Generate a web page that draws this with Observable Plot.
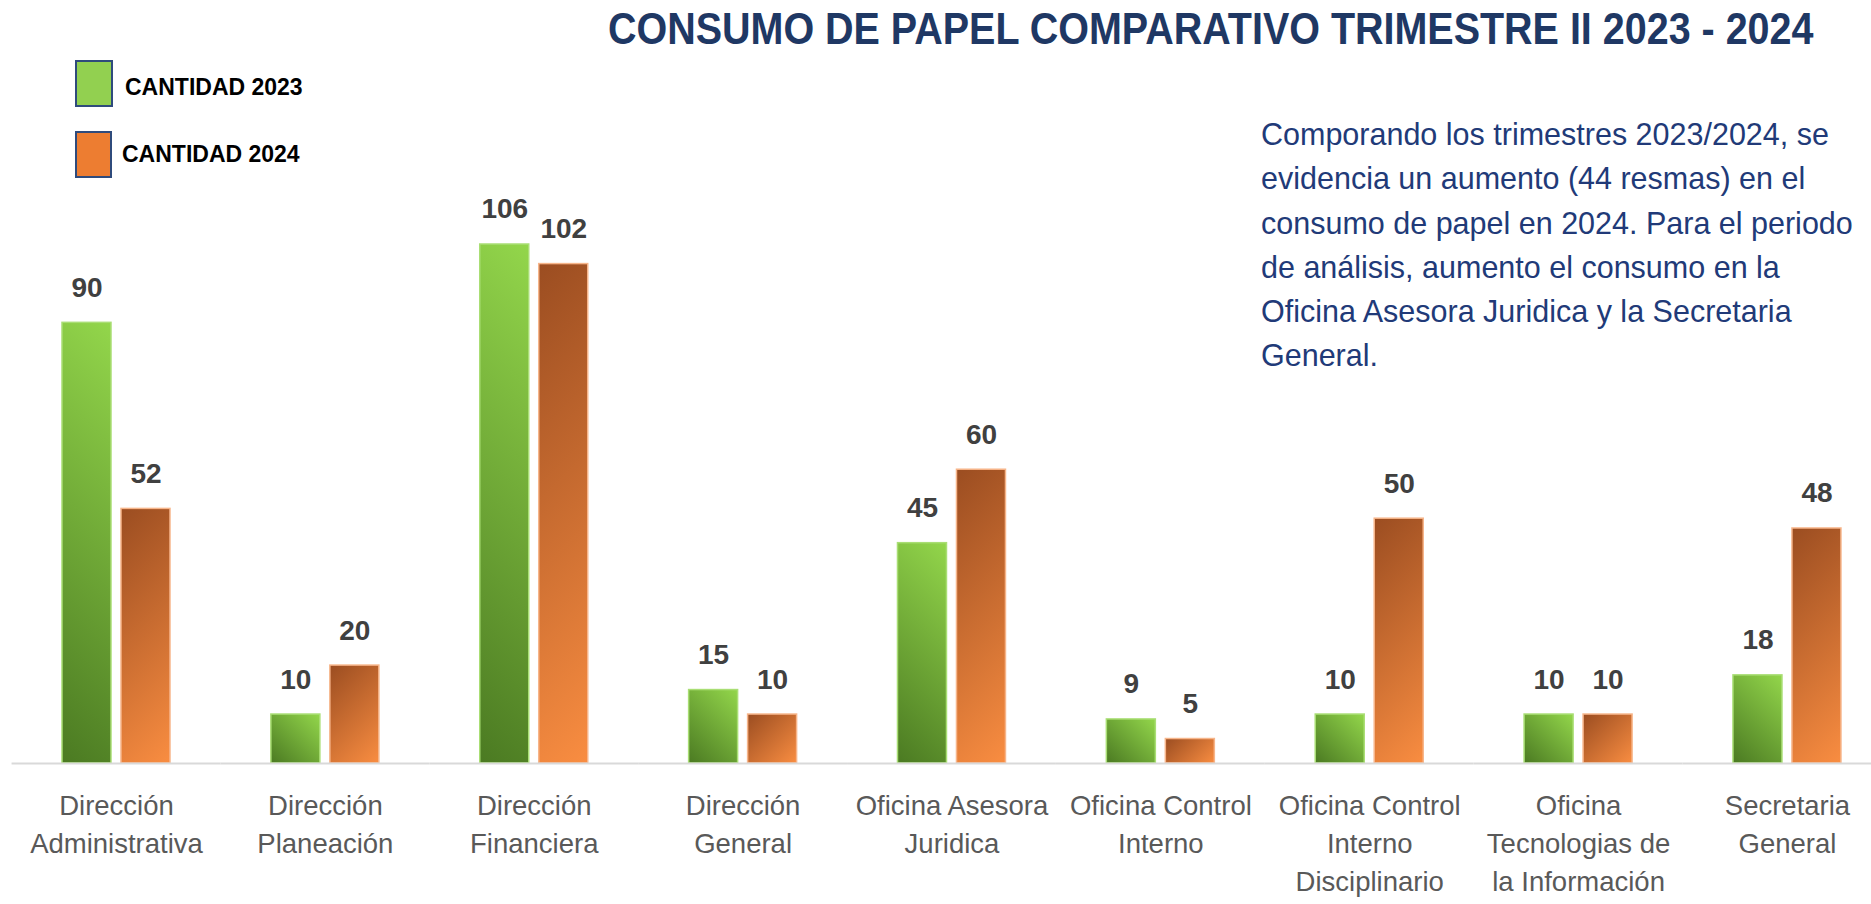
<!DOCTYPE html>
<html>
<head>
<meta charset="utf-8">
<script src="https://cdn.jsdelivr.net/npm/d3@7"></script>
<script src="https://cdn.jsdelivr.net/npm/@observablehq/plot@0.6"></script>
<style>
  html, body { margin: 0; padding: 0; background: #fff; }
  #wrap { position: relative; width: 1871px; height: 904px; overflow: hidden; background: #fff; font-family: "Liberation Sans", Arial, sans-serif; }
  #chart { position: absolute; left: 0; top: 0; }
  #title { position: absolute; left: 608px; top: 7px; font-size: 44px; line-height: 44px; font-weight: bold; color: #1f3864; white-space: nowrap; transform: scaleX(0.897); transform-origin: left top; }
  .sw { position: absolute; box-sizing: border-box; border: 2px solid #2f4b7c; }
  .lt { position: absolute; font-size: 23px; line-height: 23px; font-weight: bold; color: #000; white-space: nowrap; }
  #note { position: absolute; left: 1261px; top: 112px; font-size: 30.5px; line-height: 44.3px; color: #213a78; white-space: nowrap; }
</style>
</head>
<body>
<div id="wrap">
  <div id="chart"></div>
  <div id="title"></div>
  <div id="legend"></div>
  <div id="note"></div>
</div>
<script>
// ---- data ----
const titleText = "CONSUMO DE PAPEL COMPARATIVO TRIMESTRE II 2023 - 2024";
const categories = [
  "Dirección Administrativa",
  "Dirección Planeación",
  "Dirección Financiera",
  "Dirección General",
  "Oficina Asesora Juridica",
  "Oficina Control Interno",
  "Oficina Control Interno Disciplinario",
  "Oficina Tecnologias de la Información",
  "Secretaria General"
];
const tickLabels = [
  "Dirección\nAdministrativa",
  "Dirección\nPlaneación",
  "Dirección\nFinanciera",
  "Dirección\nGeneral",
  "Oficina Asesora\nJuridica",
  "Oficina Control\nInterno",
  "Oficina Control\nInterno\nDisciplinario",
  "Oficina\nTecnologias de\nla Información",
  "Secretaria\nGeneral"
];
const series = ["2023", "2024"];
const seriesLabels = ["CANTIDAD 2023", "CANTIDAD 2024"];
const values2023 = [90, 10, 106, 15, 45, 9, 10, 10, 18];
const values2024 = [52, 20, 102, 10, 60, 5, 50, 10, 48];
const noteLines = [
  "Comporando los trimestres 2023/2024, se",
  "evidencia un aumento (44 resmas) en el",
  "consumo de papel en 2024. Para el periodo",
  "de análisis, aumento el consumo en la",
  "Oficina Asesora Juridica y la Secretaria",
  "General."
];

// ---- styles ----
const seriesColors = ["#92d050", "#ed7d31"];
const gradStops = {
  "#92d050": ["#4b7a22", "#93d64b"],   // dark bottom-left -> light top-right
  "#ed7d31": ["#9b4d21", "#f98d41"]    // dark top-left -> light bottom-right
};
const edgeColors = {"#92d050": "#a9de74", "#ed7d31": "#f7b58a"};

// ---- table ----
const data = categories.flatMap((c, i) => [
  {category: c, year: series[0], value: values2023[i]},
  {category: c, year: series[1], value: values2024[i]}
]);
const labelOf = new Map(categories.map((c, i) => [c, tickLabels[i]]));

const plot = Plot.plot({
  width: 1871,
  height: 904,
  marginTop: 244,
  marginBottom: 141,
  marginLeft: 0,
  marginRight: 0,
  style: {background: "transparent", fontFamily: "Liberation Sans, Arial, sans-serif", overflow: "visible"},
  fx: {domain: categories, range: [11.56, 1891.4], padding: 0, round: false, label: null},
  x: {domain: series, paddingInner: 0.1695, paddingOuter: 0.855, round: false, axis: null},
  y: {domain: [0, 106], axis: null},
  color: {domain: series, range: seriesColors},
  marks: [
    Plot.barY(data, {fx: "category", x: "year", y: "value", fill: "year"}),
    Plot.ruleY([0], {stroke: "#d9d9d9", strokeWidth: 2}),
    Plot.text(data, {
      fx: "category", x: "year", y: "value", text: d => String(d.value),
      dy: -35, lineAnchor: "middle", fill: "#404040", fontSize: 28, fontWeight: "bold"
    }),
    Plot.axisFx({
      anchor: "bottom", tickSize: 0, tickPadding: 24, label: null,
      tickFormat: c => labelOf.get(c), fontSize: 27.5, lineHeight: 1.39, fill: "#595959"
    })
  ]
});
document.getElementById("chart").appendChild(plot);

// ---- 45° gradients computed from the rendered bars ----
const ns = "http://www.w3.org/2000/svg";
const defs = document.createElementNS(ns, "defs");
plot.insertBefore(defs, plot.firstChild);
let gid = 0;
plot.querySelectorAll('g[aria-label="bar"] rect').forEach(r => {
  const base = r.getAttribute("fill") || (r.parentNode && r.parentNode.getAttribute("fill"));
  const stops = gradStops[base];
  if (!stops) return;
  const x = +r.getAttribute("x"), y = +r.getAttribute("y");
  const w = +r.getAttribute("width"), h = +r.getAttribute("height");
  const s = (w + h) / 2;
  const g = document.createElementNS(ns, "linearGradient");
  const id = "bg" + (gid++);
  g.setAttribute("id", id);
  g.setAttribute("gradientUnits", "userSpaceOnUse");
  if (base === seriesColors[0]) {
    g.setAttribute("x1", x); g.setAttribute("y1", y + h);
    g.setAttribute("x2", x + s); g.setAttribute("y2", y + h - s);
  } else {
    g.setAttribute("x1", x); g.setAttribute("y1", y);
    g.setAttribute("x2", x + s); g.setAttribute("y2", y + s);
  }
  stops.forEach((c, i) => {
    const st = document.createElementNS(ns, "stop");
    st.setAttribute("offset", i / (stops.length - 1));
    st.setAttribute("stop-color", c);
    g.appendChild(st);
  });
  defs.appendChild(g);
  r.setAttribute("fill", `url(#${id})`);
  r.setAttribute("stroke", edgeColors[base]);
  r.setAttribute("stroke-width", 1.5);
});

// ---- title, legend, note ----
document.getElementById("title").textContent = titleText;
const legend = document.getElementById("legend");
const swPos = [{left: 74.5, top: 60, w: 38.5, h: 47}, {left: 74.5, top: 131, w: 37.5, h: 47}];
const ltPos = [{left: 125, top: 75.7}, {left: 122, top: 143}];
series.forEach((s, i) => {
  const sw = document.createElement("div");
  sw.className = "sw";
  Object.assign(sw.style, {left: swPos[i].left + "px", top: swPos[i].top + "px", width: swPos[i].w + "px", height: swPos[i].h + "px", background: seriesColors[i]});
  legend.appendChild(sw);
  const lt = document.createElement("div");
  lt.className = "lt";
  lt.textContent = seriesLabels[i];
  Object.assign(lt.style, {left: ltPos[i].left + "px", top: ltPos[i].top + "px"});
  legend.appendChild(lt);
});
const note = document.getElementById("note");
noteLines.forEach(t => { const d = document.createElement("div"); d.textContent = t; note.appendChild(d); });
</script>
</body>
</html>
